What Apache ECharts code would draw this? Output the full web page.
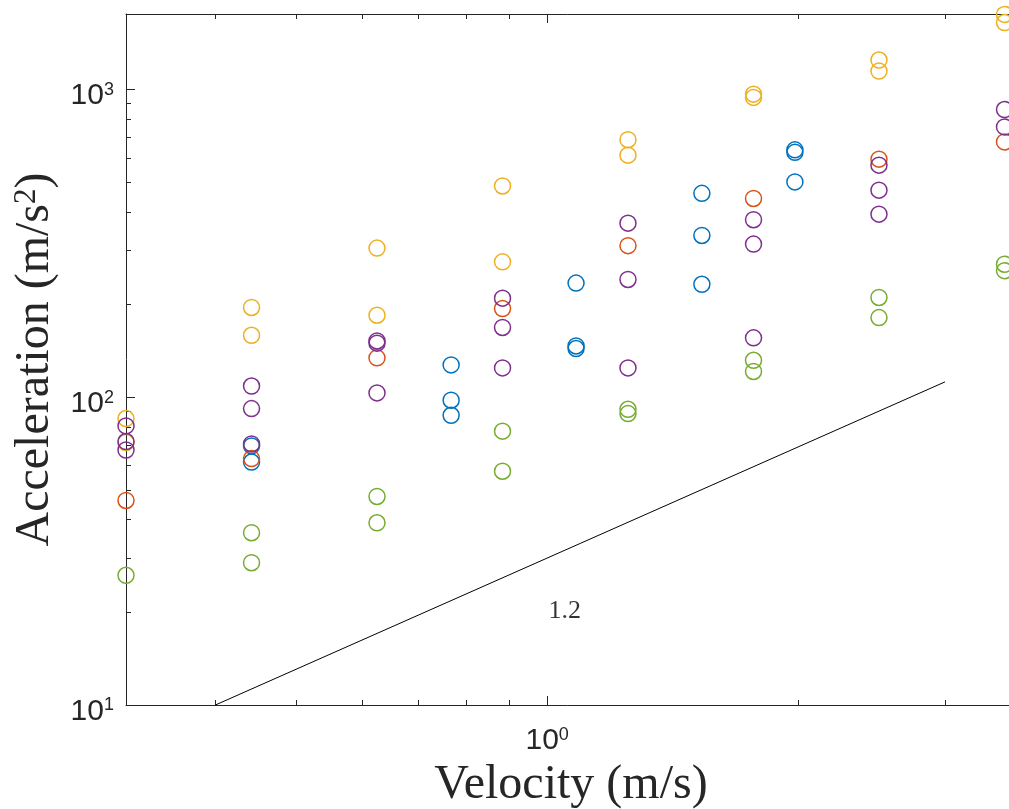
<!DOCTYPE html>
<html>
<head>
<meta charset="utf-8">
<script src="https://cdn.jsdelivr.net/npm/echarts@6/dist/echarts.min.js"></script>
<style>
html,body{margin:0;padding:0;background:#fff;}
#main{width:1009px;height:809px;}
</style>
</head>
<body>
<div id="main"></div>
<script>
// ---- data ----
const vGrid = [0.3125, 0.442, 0.625, 0.884, 1.25, 1.768, 2.5, 3.536];
const vBlue = [0.442, 0.767, 1.083, 1.533, 1.982];

const accBlue = [[69.5, 61.6], [127.4, 97.8, 87.4], [235, 146.8, 144], [460, 335.6, 232.9], [637, 625, 501]];
const accOrange = [[46.2], [63.2], [134.3], [194.3], [311], [442.6], [594], [676]];
const accYellow = [[85.3, 71.3], [195.8, 159], [305.3, 184.8], [486, 275.5], [687, 612], [966, 943], [1247, 1148], [1755, 1651]];
const accPurple = [[80.7, 71.8, 67.4], [108.8, 91.9, 70.5], [152.4, 149.9, 103.3], [209.9, 168.6, 124.6], [368, 241.5, 124.6], [377.6, 314.6, 156], [568, 471, 393.6], [861, 756]];
const accGreen = [[26.4], [36.3, 29.0], [47.6, 39.1], [77.6, 57.5], [91.4, 88.5], [131.9, 121.3], [211, 181.5], [270.7, 257.9]];

const slopeX = [0.4, 3];
const slopeY = [10, 112.2];
const slopeLabel = '1.2';
const slopeLabelPos = [1.05, 20.2];

const xMajorTicks = [1];
const xMinorTicks = [0.4, 0.5, 0.6, 0.7, 0.8, 0.9, 2, 3];
const yMajorTicks = [10, 100, 1000];
const yMinorTicks = [20, 30, 40, 50, 60, 70, 80, 90, 200, 300, 400, 500, 600, 700, 800, 900];

const xRange = [0.3125, 3.65];
const yRange = [10, 1760];

const colors = {
  blue: '#0072BD', orange: '#D95319', yellow: '#EDB120', purple: '#7E2F8E', green: '#77AC30'
};

function pairs(xs, groups) {
  const out = [];
  groups.forEach((g, i) => g.forEach(v => out.push([xs[i], v])));
  return out;
}

const axisColor = '#262626';
const powLabel = v => '{a|10}{b|' + Math.round(Math.log10(v)) + '}';
const labelRich = {
  a: { fontFamily: 'Liberation Sans', fontSize: 30, color: axisColor },
  b: { fontFamily: 'Liberation Sans', fontSize: 18, color: axisColor, verticalAlign: 'top' }
};

function xAx(pos, ticks, len, showLine, showLabel, extra) {
  return Object.assign({
    type: 'log', logBase: 10, gridIndex: 0, position: pos,
    min: xRange[0], max: xRange[1],
    axisLine: { show: showLine, onZero: false, lineStyle: { color: axisColor, width: 1 } },
    axisTick: { show: true, inside: true, length: len, customValues: ticks, lineStyle: { color: axisColor, width: 1 } },
    axisLabel: showLabel ? { show: true, customValues: ticks, formatter: powLabel, rich: labelRich, margin: 21 } : { show: false },
    splitLine: { show: false }, minorTick: { show: false }
  }, extra || {});
}
function yAx(pos, ticks, len, showLine, showLabel, extra) {
  return Object.assign({
    type: 'log', logBase: 10, gridIndex: 0, position: pos,
    min: yRange[0], max: yRange[1],
    axisLine: { show: showLine, onZero: false, lineStyle: { color: axisColor, width: 1 } },
    axisTick: { show: true, inside: true, length: len, customValues: ticks, lineStyle: { color: axisColor, width: 1 } },
    axisLabel: showLabel ? { show: true, customValues: ticks, formatter: powLabel, rich: labelRich, margin: 12, padding: [13, 0, 0, 0] } : { show: false },
    splitLine: { show: false }, minorTick: { show: false }
  }, extra || {});
}

function scatter(name, data, color) {
  return {
    name: name, type: 'scatter', xAxisIndex: 0, yAxisIndex: 0,
    data: data, symbol: 'circle', symbolSize: 16, clip: false,
    itemStyle: { color: 'rgba(0,0,0,0)', borderColor: color, borderWidth: 1.5, opacity: 1 },
    emphasis: { disabled: true }, silent: true
  };
}

const chart = echarts.init(document.getElementById('main'), null, { renderer: 'canvas' });
chart.setOption({
  animation: false,
  backgroundColor: '#ffffff',
  grid: { left: 126, right: -7, top: 14, bottom: 104, containLabel: false, outerBoundsMode: 'none' },
  xAxis: [
    xAx('bottom', xMajorTicks, 9, true, true, {
      name: 'Velocity (m/s)', nameLocation: 'middle', nameGap: 56,
      nameTextStyle: { fontFamily: 'Liberation Serif', fontSize: 48, color: axisColor }
    }),
    xAx('bottom', xMinorTicks, 5, false, false),
    xAx('top', xMajorTicks, 9, true, false),
    xAx('top', xMinorTicks, 5, false, false)
  ],
  yAxis: [
    yAx('left', yMajorTicks, 9, true, true, {
      name: 'Acceleration (m/s{s|2})', nameLocation: 'middle', nameGap: 66,
      nameTextStyle: { fontFamily: 'Liberation Serif', fontSize: 48, color: axisColor,
        rich: { s: { fontFamily: 'Liberation Serif', fontSize: 31, color: axisColor, verticalAlign: 'top' } } }
    }),
    yAx('left', yMinorTicks, 5, false, false)
  ],
  series: [
    scatter('blue', pairs(vBlue, accBlue), colors.blue),
    scatter('orange', pairs(vGrid, accOrange), colors.orange),
    scatter('yellow', pairs(vGrid, accYellow), colors.yellow),
    scatter('purple', pairs(vGrid, accPurple), colors.purple),
    scatter('green', pairs(vGrid, accGreen), colors.green),
    {
      type: 'line', xAxisIndex: 0, yAxisIndex: 0,
      data: slopeX.map((x, i) => [x, slopeY[i]]),
      symbol: 'none', lineStyle: { color: '#000000', width: 1 }, silent: true, clip: false
    },
    {
      type: 'scatter', xAxisIndex: 0, yAxisIndex: 0, symbolSize: 0, silent: true,
      data: [slopeLabelPos],
      label: { show: true, position: 'inside', formatter: slopeLabel,
        fontFamily: 'Liberation Serif', fontSize: 26, color: '#000000' }
    }
  ]
});
</script>
</body>
</html>
